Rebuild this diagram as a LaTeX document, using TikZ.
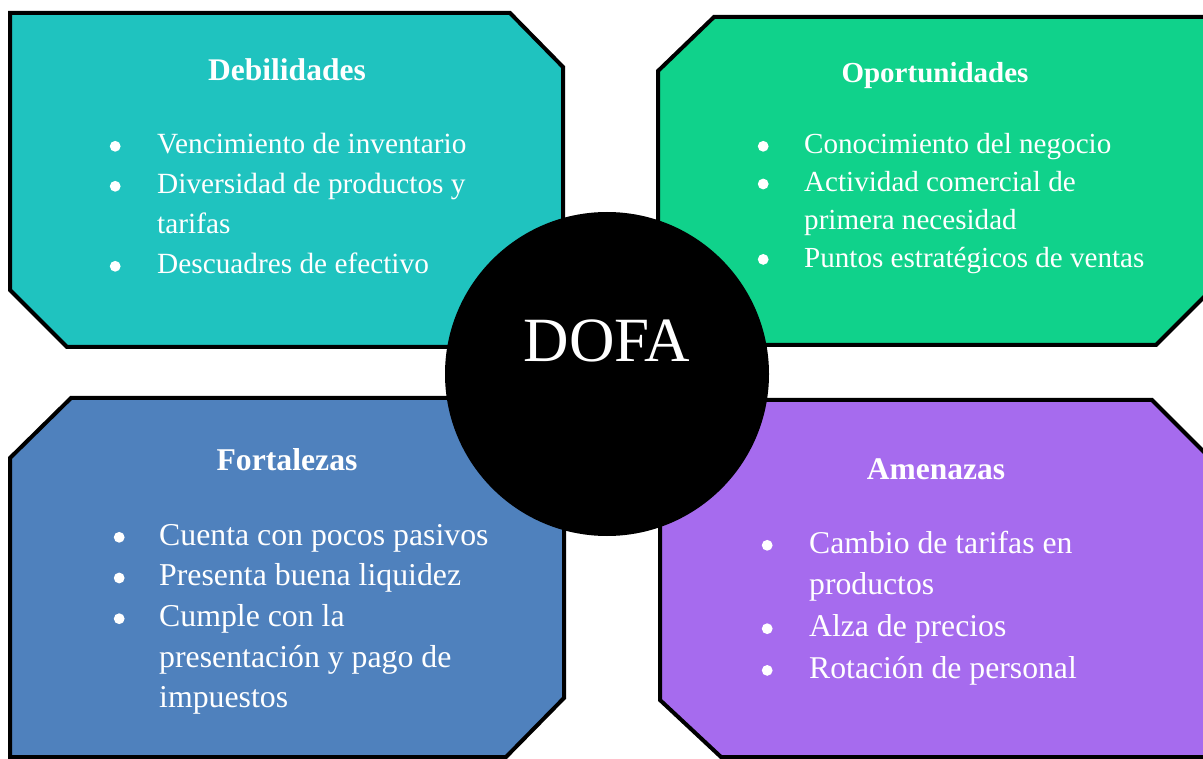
\documentclass[tikz,border=0pt]{standalone}
\usepackage{fontspec}
\setmainfont{Liberation Serif}
\definecolor{debcol}{HTML}{1FC3BF}
\definecolor{opocol}{HTML}{10D28B}
\definecolor{forcol}{HTML}{4F81BD}
\definecolor{amecol}{HTML}{A66BEE}
\newcommand{\bul}[1]{\makebox[0pt]{\raisebox{2.3pt}{\tikz\fill[white] (0pt,0pt) circle[radius=5.4pt];}}\hspace*{#1}}
\newcommand{\indt}[1]{\hspace*{#1}}
\begin{document}
\begin{tikzpicture}[x=1pt,y=-1pt,
  box/.style={draw=black,line width=4pt,line join=miter},
  ttl/.style={text=white,inner sep=0pt,anchor=base},
  lst/.style={text=white,inner sep=0pt,anchor=base west,align=left}]
\useasboundingbox (0,0) rectangle (1203,759);
\clip (0,0) rectangle (1203,759);
\fill[white] (0,0) rectangle (1203,759);
% boxes
\draw[box,fill=debcol] (10,13) -- (510,13) -- (563,67) -- (563,347) -- (67,347) -- (10,290) -- cycle;
\draw[box,fill=opocol] (714,17) -- (1211,17) -- (1211,290) -- (1156,345) -- (658,345) -- (658,71) -- cycle;
\draw[box,fill=forcol] (71,398) -- (564,398) -- (564,698) -- (506,757) -- (10,757) -- (10,458) -- cycle;
\draw[box,fill=amecol] (660,400) -- (1152,400) -- (1214,462) -- (1214,757) -- (721,757) -- (660,700) -- cycle;
% centre circle
\node[circle,fill=black,minimum size=324pt,inner sep=0pt] (dofa) at (607,374) {};
\node[text=white,inner sep=0pt,anchor=base,font={\fontsize{63}{70}\selectfont}] (dofatxt) at (607,362) {DOFA};
% titles
\node[ttl,font={\fontsize{31.5}{38}\selectfont\bfseries}] (debt) at (287,81) {Debilidades};
\node[ttl,font={\fontsize{29}{36}\selectfont\bfseries}] (opot) at (935,83) {Oportunidades};
\node[ttl,font={\fontsize{31.7}{38}\selectfont\bfseries}] (fort) at (287,470) {Fortalezas};
\node[ttl,font={\fontsize{31.5}{38}\selectfont\bfseries}] (amet) at (936,479) {Amenazas};
% lists
\node[lst,font={\fontsize{29.3}{40}\selectfont}] (debl) at (115,154) {%
\begin{tabular}[t]{@{}l@{}l@{}}
\bul{42pt} & Vencimiento de inventario\\
\bul{42pt} & Diversidad de productos y\\
\indt{42pt} & tarifas\\
\bul{42pt} & Descuadres de efectivo
\end{tabular}};
\node[lst,font={\fontsize{29.1}{37.7}\selectfont}] (opol) at (763,154) {%
\begin{tabular}[t]{@{}l@{}l@{}}
\bul{41pt} & Conocimiento del negocio\\
\bul{41pt} & Actividad comercial de\\
\indt{41pt} & primera necesidad\\
\bul{41pt} & Puntos estratégicos de ventas
\end{tabular}};
\node[lst,font={\fontsize{31.8}{40.7}\selectfont}] (forl) at (119,545) {%
\begin{tabular}[t]{@{}l@{}l@{}}
\bul{40pt} & Cuenta con pocos pasivos\\
\bul{40pt} & Presenta buena liquidez\\
\bul{40pt} & Cumple con la\\
\indt{40pt} & presentación y pago de\\
\indt{40pt} & impuestos
\end{tabular}};
\node[lst,font={\fontsize{31.7}{41.7}\selectfont}] (amel) at (767,553) {%
\begin{tabular}[t]{@{}l@{}l@{}}
\bul{42pt} & Cambio de tarifas en\\
\indt{42pt} & productos\\
\bul{42pt} & Alza de precios\\
\bul{42pt} & Rotación de personal
\end{tabular}};
\end{tikzpicture}
\end{document}
